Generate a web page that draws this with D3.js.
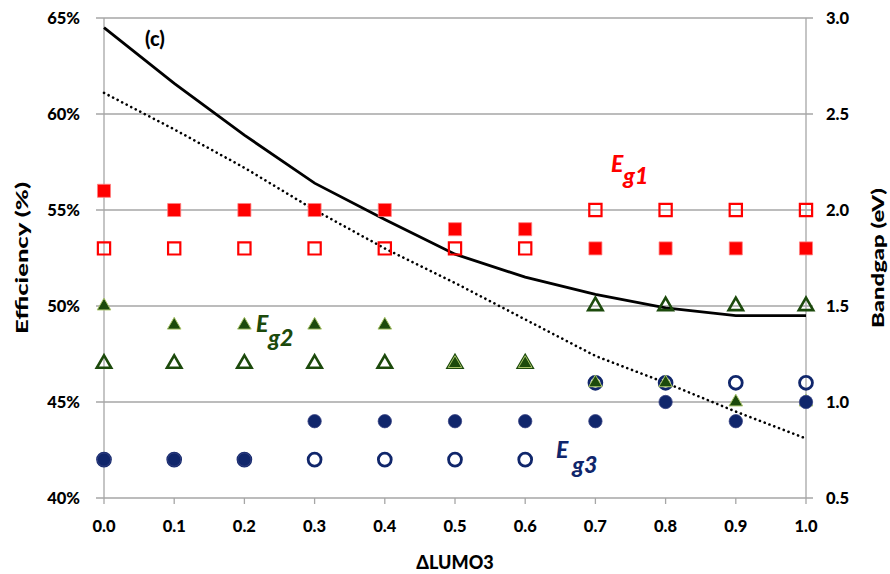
<!DOCTYPE html>
<html><head><meta charset="utf-8">
<script src="https://cdn.jsdelivr.net/npm/d3@7"></script>
<style>
body{margin:0;background:#fff;}
text{font-family:Lato,"Open Sans",sans-serif;}
</style></head>
<body><svg id="c" width="890" height="574"></svg>
<script>
const lumo = [0.0,0.1,0.2,0.3,0.4,0.5,0.6,0.7,0.8,0.9,1.0];
const effSolid = [64.5,61.6,58.9,56.4,54.5,52.7,51.5,50.6,49.9,49.5,49.5];
const effDotted = [61.1,59.2,57.2,55.0,53.0,51.2,49.3,47.4,46.0,44.5,43.1];
const eg1Filled = [2.1,2.0,2.0,2.0,2.0,1.9,1.9,1.8,1.8,1.8,1.8];
const eg1Open   = [1.8,1.8,1.8,1.8,1.8,1.8,1.8,2.0,2.0,2.0,2.0];
const eg2Filled = [1.5,1.4,1.4,1.4,1.4,1.2,1.2,1.1,1.1,1.0,1.0];
const eg2Open   = [1.2,1.2,1.2,1.2,1.2,1.2,1.2,1.5,1.5,1.5,1.5];
const eg3Filled = [0.7,0.7,0.7,0.9,0.9,0.9,0.9,0.9,1.0,0.9,1.0];
const eg3Open   = [0.7,0.7,0.7,0.7,0.7,0.7,0.7,1.1,1.1,1.1,1.1];
const effTicks = [40,45,50,55,60,65];
const gapTicks = [0.5,1.0,1.5,2.0,2.5,3.0];

const svg = d3.select("#c");
const L=104, R=806, T=18, B=498;
const x = d3.scaleLinear().domain([0,1]).range([L,R]);
const yE = d3.scaleLinear().domain([40,65]).range([B,T]);
const yG = d3.scaleLinear().domain([0.5,3.0]).range([B,T]);
const grid="#a6a6a6";

svg.append("g").selectAll("line").data(effTicks).join("line")
  .attr("x1",L-8).attr("x2",R+7).attr("y1",d=>yE(d)).attr("y2",d=>yE(d))
  .attr("stroke",grid).attr("stroke-width",1.3);
[L,R].forEach(px=>svg.append("line").attr("x1",px).attr("x2",px).attr("y1",T).attr("y2",B)
  .attr("stroke",grid).attr("stroke-width",1.3));
svg.append("g").selectAll("line").data(lumo).join("line")
  .attr("x1",d=>x(d)).attr("x2",d=>x(d)).attr("y1",B).attr("y2",B+6)
  .attr("stroke",grid).attr("stroke-width",1.3);

svg.append("g").selectAll("text").data(effTicks).join("text")
  .attr("x",L-24).attr("y",d=>yE(d)+6).attr("text-anchor","end")
  .attr("font-size",16.5).attr("font-weight",900).text(d=>d+"%");
svg.append("g").selectAll("text").data(gapTicks).join("text")
  .attr("x",R+20).attr("y",d=>yG(d)+6).attr("text-anchor","start")
  .attr("font-size",16.5).attr("font-weight",900).text(d=>d.toFixed(1));
svg.append("g").selectAll("text").data(lumo).join("text")
  .attr("x",d=>x(d)).attr("y",B+34).attr("text-anchor","middle")
  .attr("font-size",16.5).attr("font-weight",900).text(d=>d.toFixed(1));

svg.append("text").attr("transform",`translate(28,${(T+B)/2}) rotate(-90)`)
  .attr("text-anchor","middle").attr("font-size",17.5).attr("font-weight",900)
  .attr("textLength",152).attr("lengthAdjust","spacingAndGlyphs").text("Efficiency (%)");
svg.append("text").attr("transform",`translate(884,${(T+B)/2}) rotate(-90)`)
  .attr("text-anchor","middle").attr("font-size",17.5).attr("font-weight",900)
  .attr("textLength",140).attr("lengthAdjust","spacingAndGlyphs").text("Bandgap (eV)");
svg.append("text").attr("x",(L+R)/2).attr("y",569).attr("text-anchor","middle")
  .attr("font-size",18).attr("font-weight",900).text("\u0394LUMO3");

const lineE = arr => d3.line().x((d,i)=>x(lumo[i])).y(d=>yE(d))(arr);
svg.append("path").attr("d",lineE(effDotted)).attr("fill","none").attr("stroke","#000")
  .attr("stroke-width",2.6).attr("stroke-dasharray","0.1 5").attr("stroke-linecap","round");
svg.append("path").attr("d",lineE(effSolid)).attr("fill","none").attr("stroke","#000")
  .attr("stroke-width",2.8);

const RED="#ff0000", GRN="#1c4a0c", GRNL="#a9c46a", NAVY="#10266b";
function markers(arr, type, opts){
  const sym = d3.symbol().type(type).size(opts.size);
  svg.append("g").selectAll("path").data(arr).join("path")
    .attr("transform",(d,i)=>`translate(${x(lumo[i])},${yG(d)})`)
    .attr("d",sym)
    .attr("fill",opts.fill).attr("stroke",opts.stroke).attr("stroke-width",opts.sw);
}
markers(eg1Open, d3.symbolSquare, {size:150, fill:"none", stroke:RED, sw:2.2});
markers(eg2Open, d3.symbolTriangle, {size:90, fill:"none", stroke:GRN, sw:2.6});
markers(eg3Open, d3.symbolCircle, {size:130, fill:"none", stroke:NAVY, sw:2.8});
markers(eg1Filled, d3.symbolSquare, {size:170, fill:RED, stroke:"#ff8080", sw:0.8});
markers(eg2Filled, d3.symbolTriangle, {size:80, fill:GRN, stroke:GRNL, sw:1});
markers(eg3Filled, d3.symbolCircle, {size:140, fill:NAVY, stroke:"#3b4585", sw:0.8});

function eg(xp, yp, sub, color, dx, dy){
  const t = svg.append("text").attr("x",xp).attr("y",yp).attr("fill",color)
    .attr("font-size",23).attr("font-weight",900).attr("font-style","italic");
  t.append("tspan").text("E");
  t.append("tspan").attr("dx",dx).attr("dy",dy).text(sub);
}
eg(611,172,"g1",RED,0,12);
eg(256,332,"g2",GRN,0,14);
eg(556,458,"g3",NAVY,4,15);
svg.append("text").attr("x",145).attr("y",46).attr("font-size",20).attr("font-weight",900).text("(c)");
</script></body></html>
